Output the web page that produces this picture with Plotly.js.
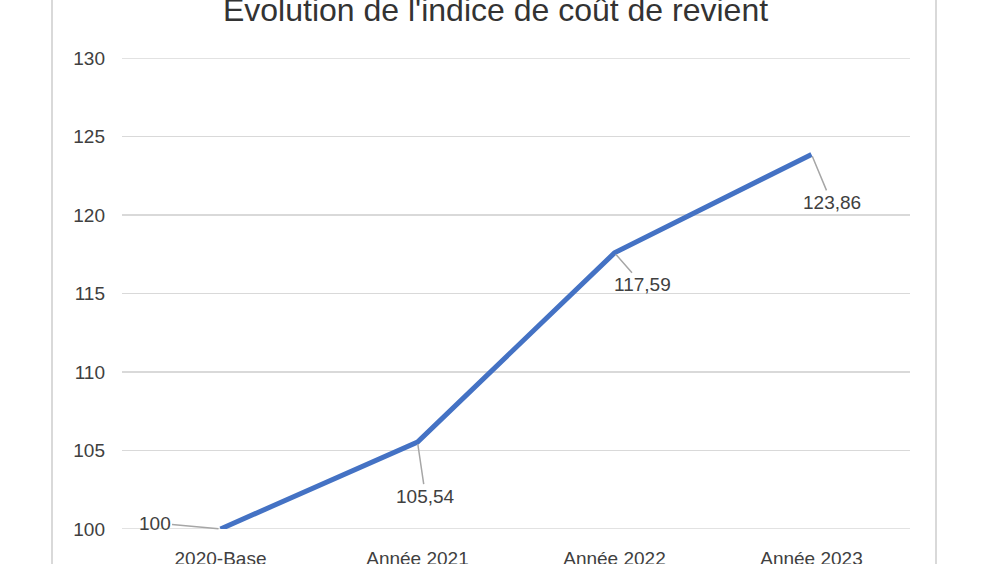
<!DOCTYPE html>
<html>
<head>
<meta charset="utf-8">
<script src="https://cdn.plot.ly/plotly-3.0.1.min.js"></script>
<style>
html,body{margin:0;padding:0;background:#fff;}
#chart{width:1000px;height:564px;}
</style>
</head>
<body>
<div id="chart"></div>
<script>
var categories = ["2020-Base", "Année 2021", "Année 2022", "Année 2023"];
var values = [100, 105.54, 117.59, 123.86];
var labelText = ["100", "105,54", "117,59", "123,86"];
var yTicks = [100, 105, 110, 115, 120, 125, 130];

var labelOffsets = [[-66, -6], [8, 54], [28, 32], [20, 48]];

var annotations = categories.map(function (c, i) {
  return {
    x: c, y: values[i], xref: 'x', yref: 'y',
    text: labelText[i],
    showarrow: true, arrowhead: 0, arrowwidth: 1.5, arrowcolor: '#a6a6a6',
    ax: labelOffsets[i][0], ay: labelOffsets[i][1],
    font: {family: 'Liberation Sans, Arial, sans-serif', size: 19, color: '#404040'},
    standoff: 2, startstandoff: 0
  };
});

var trace = {
  x: categories, y: values, type: 'scatter', mode: 'lines',
  line: {color: '#4472C4', width: 5},
  cliponaxis: false, hoverinfo: 'none'
};

var edgeLines = [yTicks[0], yTicks[yTicks.length - 1]].map(function (v) {
  return {type: 'line', xref: 'paper', yref: 'y', x0: 0, x1: 1, y0: v, y1: v,
          line: {color: '#d9d9d9', width: 1.5}, layer: 'below'};
});

var layout = {
  width: 1000, height: 564,
  paper_bgcolor: '#ffffff', plot_bgcolor: '#ffffff',
  margin: {l: 122, r: 90, t: 58, b: 35},
  showlegend: false,
  title: {
    text: "Evolution de l'indice de coût de revient",
    font: {family: 'Liberation Sans, Arial, sans-serif', size: 32, color: '#333333'},
    x: 0.474, xanchor: 'center', xref: 'paper',
    y: 0.983, yanchor: 'middle', yref: 'container'
  },
  xaxis: {
    type: 'category', range: [-0.5, 3.5], showgrid: false, zeroline: false,
    showline: false, ticks: '', ticklabelstandoff: 16,
    tickfont: {family: 'Liberation Sans, Arial, sans-serif', size: 19, color: '#404040'},
    fixedrange: true
  },
  yaxis: {
    range: [100, 130], tickvals: yTicks, ticktext: yTicks.map(String),
    showgrid: true, gridcolor: '#d9d9d9', gridwidth: 1.5, zeroline: false,
    showline: false, ticks: '', ticklabelstandoff: 16,
    tickfont: {family: 'Liberation Sans, Arial, sans-serif', size: 19, color: '#404040'},
    fixedrange: true
  },
  annotations: annotations,
  shapes: [
    {type: 'line', xref: 'paper', yref: 'paper', x0: -70/788, x1: -70/788, y0: -1, y1: 2,
     line: {color: '#d9d9d9', width: 2}},
    {type: 'line', xref: 'paper', yref: 'paper', x0: 814/788, x1: 814/788, y0: -1, y1: 2,
     line: {color: '#d9d9d9', width: 2}}
  ].concat(edgeLines)
};

Plotly.newPlot('chart', [trace], layout, {displayModeBar: false, staticPlot: true});
</script>
</body>
</html>
